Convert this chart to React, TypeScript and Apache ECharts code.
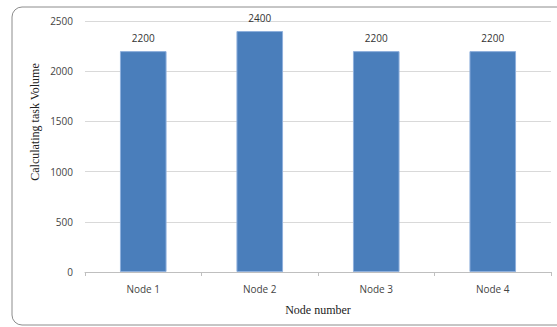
import React, { useEffect, useRef } from "react";
import * as echarts from "echarts";

const categories = ["Node 1", "Node 2", "Node 3", "Node 4"];
const taskVolume = [2200, 2400, 2200, 2200];
const yTicks = { min: 0, max: 2500, interval: 500 };

export default function App() {
  const ref = useRef<HTMLDivElement>(null);

  useEffect(() => {
    if (!ref.current) return;
    const chart = echarts.init(ref.current, null, { renderer: "svg" });
    chart.setOption({
      animation: false,
      backgroundColor: "#ffffff",
      graphic: [
        {
          type: "rect",
          shape: { x: 12, y: 7, width: 560, height: 318, r: 10 },
          style: { fill: "none", stroke: "#8c8c8c", lineWidth: 1 },
          silent: true,
          z: -1,
        },
        {
          type: "text",
          x: 35,
          y: 122,
          rotation: Math.PI / 2,
          style: {
            text: "Calculating task Volume",
            fontFamily: "Liberation Serif",
            fontSize: 12,
            fill: "#222",
            align: "center",
            verticalAlign: "middle",
          },
          silent: true,
        },
      ],
      grid: { left: 85, right: 6, top: 21, bottom: 55 },
      xAxis: {
        type: "category",
        data: categories,
        name: "Node number",
        nameLocation: "middle",
        nameGap: 32,
        nameTextStyle: { fontFamily: "Liberation Serif", fontSize: 12, color: "#222" },
        axisLine: { lineStyle: { color: "#bfbfbf" } },
        axisTick: { show: true, alignWithLabel: false, length: 4, lineStyle: { color: "#bfbfbf" } },
        axisLabel: { fontFamily: "Open Sans", fontSize: 10, color: "#444", margin: 12 },
      },
      yAxis: {
        type: "value",
        min: yTicks.min,
        max: yTicks.max,
        interval: yTicks.interval,
        axisLine: { show: false },
        axisTick: { show: false },
        axisLabel: {
          fontFamily: "Open Sans",
          fontSize: 10,
          color: "#444",
          margin: 12,
          formatter: (v: number) => String(v),
        },
        splitLine: { lineStyle: { color: "#d9d9d9" } },
      },
      series: [
        {
          type: "bar",
          data: taskVolume,
          barWidth: "40%",
          itemStyle: { color: "#4a7ebb", borderColor: "#8fb0dc", borderWidth: 1 },
          label: {
            show: true,
            position: "top",
            distance: 8,
            fontFamily: "Open Sans",
            fontSize: 10,
            color: "#333",
          },
        },
      ],
    });
    return () => chart.dispose();
  }, []);

  return (
    <div
      ref={ref}
      style={{ position: "fixed", left: 0, top: 0, width: 557, height: 327 }}
    />
  );
}
